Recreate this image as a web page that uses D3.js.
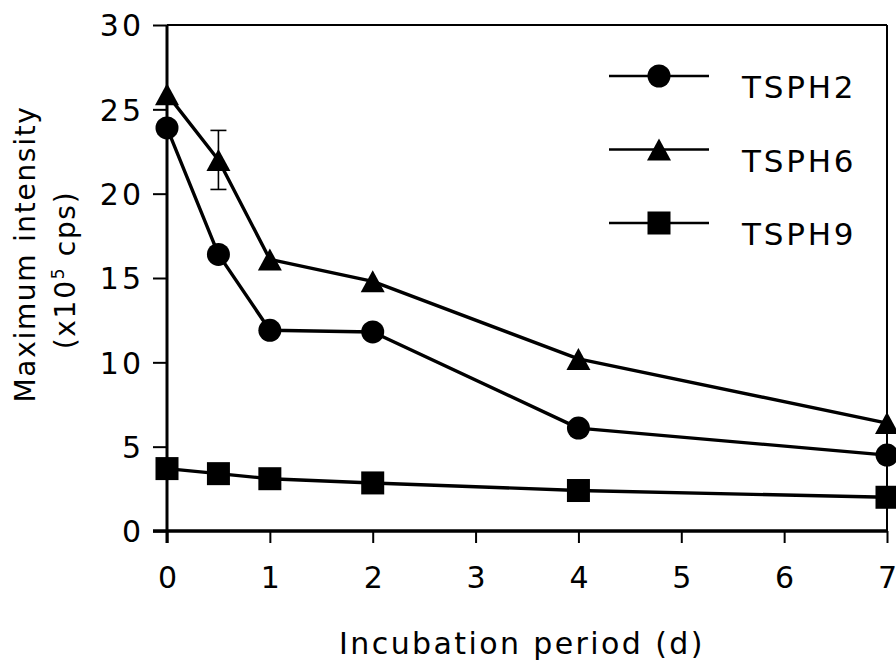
<!DOCTYPE html>
<html>
<head>
<meta charset="utf-8">
<script src="https://cdn.jsdelivr.net/npm/d3@7"></script>
<style>
  html, body { margin: 0; padding: 0; background: #fff; }
  svg { display: block; }
  text { font-family: "DejaVu Sans", Verdana, sans-serif; fill: #000; }
</style>
</head>
<body>
<svg id="chart" width="896" height="662"></svg>
<script>
// Incubation time points (days)
const days = [0, 0.5, 1, 2, 4, 7];
const xTicks = [0, 1, 2, 3, 4, 5, 6, 7];
const yTicks = [0, 5, 10, 15, 20, 25, 30];

// Maximum intensity (x10^5 cps)
const tsph2 = [23.9, 16.4, 11.9, 11.8, 6.1, 4.5];
const tsph6 = [25.9, 22.0, 16.1, 14.8, 10.2, 6.4];
const tsph9 = [3.7, 3.4, 3.1, 2.85, 2.4, 2.0];
const tsph6Err = [null, 1.75, null, null, null, null];

const seriesNames = ["TSPH2", "TSPH6", "TSPH9"];
const seriesShapes = ["circle", "triangle", "square"];

const series = [
  { name: seriesNames[0], shape: seriesShapes[0], values: tsph2, err: null },
  { name: seriesNames[1], shape: seriesShapes[1], values: tsph6, err: tsph6Err },
  { name: seriesNames[2], shape: seriesShapes[2], values: tsph9, err: null }
];

const svg = d3.select("#chart");

const x = d3.scaleLinear().domain([0, 7]).range([167, 887]);
const y = d3.scaleLinear().domain([0, 30]).range([531, 25]);
const fmt = d3.format("d");

// Frame lines on top and right
svg.append("line")
  .attr("x1", x(0)).attr("x2", x(7)).attr("y1", y(30)).attr("y2", y(30))
  .attr("stroke", "#000").attr("stroke-width", 2);
svg.append("line")
  .attr("x1", x(7)).attr("x2", x(7)).attr("y1", y(30)).attr("y2", y(0))
  .attr("stroke", "#000").attr("stroke-width", 2);

// Y axis
const yAxis = svg.append("g")
  .attr("transform", `translate(${x(0)},0)`)
  .call(d3.axisLeft(y).tickValues(yTicks).tickFormat(fmt)
    .tickSize(14).tickPadding(12).tickSizeOuter(0));
yAxis.select(".domain").remove();
yAxis.selectAll(".tick line").attr("stroke", "#000").attr("stroke-width", 2);
yAxis.selectAll(".tick text")
  .attr("font-size", 30)
  .attr("letter-spacing", 3)
  .attr("dx", 3)
  .attr("dy", "0.36em")
  .style("font-family", "'DejaVu Sans', Verdana, sans-serif");
svg.append("line")
  .attr("x1", x(0)).attr("x2", x(0)).attr("y1", y(30)).attr("y2", y(0) + 12)
  .attr("stroke", "#000").attr("stroke-width", 3);

// X axis
const xAxis = svg.append("g")
  .attr("transform", `translate(0,${y(0)})`)
  .call(d3.axisBottom(x).tickValues(xTicks).tickFormat(fmt)
    .tickSize(12).tickPadding(14).tickSizeOuter(0));
xAxis.select(".domain").remove();
xAxis.selectAll(".tick line").attr("stroke", "#000").attr("stroke-width", 2);
xAxis.selectAll(".tick text")
  .attr("font-size", 30)
  .attr("y", 57)
  .attr("dy", 0)
  .style("font-family", "'DejaVu Sans', Verdana, sans-serif");
svg.append("line")
  .attr("x1", x(0) - 14).attr("x2", x(7)).attr("y1", y(0)).attr("y2", y(0))
  .attr("stroke", "#000").attr("stroke-width", 3.5);

// Axis titles
svg.append("text")
  .attr("x", 522).attr("y", 654)
  .attr("text-anchor", "middle")
  .attr("font-size", 30)
  .attr("letter-spacing", 2.4)
  .text("Incubation period (d)");

svg.append("text")
  .attr("transform", "translate(35,254) rotate(-90)")
  .attr("text-anchor", "middle")
  .attr("font-size", 28)
  .attr("letter-spacing", 1.7)
  .text("Maximum intensity");

const yt2 = svg.append("text")
  .attr("transform", "translate(75,270) rotate(-90)")
  .attr("text-anchor", "middle")
  .attr("font-size", 28)
  .attr("letter-spacing", 1.7);
yt2.append("tspan").text("(x10");
yt2.append("tspan").attr("font-size", 17).attr("dy", -11).text("5");
yt2.append("tspan").attr("dy", 11).text(" cps)");

// Marker drawing
function marker(g, shape, cx, cy) {
  if (shape === "circle") {
    g.append("circle").attr("cx", cx).attr("cy", cy).attr("r", 11.5).attr("fill", "#000");
  } else if (shape === "square") {
    g.append("rect").attr("x", cx - 11.5).attr("y", cy - 11.5)
      .attr("width", 23).attr("height", 23).attr("fill", "#000");
  } else {
    const w = 24, h = 22;
    g.append("path")
      .attr("d", `M${cx},${cy - h / 2}L${cx + w / 2},${cy + h / 2}L${cx - w / 2},${cy + h / 2}Z`)
      .attr("fill", "#000");
  }
}

const line = d3.line().x(d => x(d[0])).y(d => y(d[1]));

series.forEach(s => {
  const g = svg.append("g");
  const pts = days.map((d, i) => [d, s.values[i]]);
  // error bars
  if (s.err) {
    pts.forEach((p, i) => {
      const e = s.err[i];
      if (e == null) return;
      const px = x(p[0]);
      g.append("line").attr("x1", px).attr("x2", px)
        .attr("y1", y(p[1] + e)).attr("y2", y(p[1] - e))
        .attr("stroke", "#000").attr("stroke-width", 1.6);
      [p[1] + e, p[1] - e].forEach(v => {
        g.append("line").attr("x1", px - 8).attr("x2", px + 8)
          .attr("y1", y(v)).attr("y2", y(v))
          .attr("stroke", "#000").attr("stroke-width", 1.6);
      });
    });
  }
  g.append("path").datum(pts)
    .attr("d", line)
    .attr("fill", "none").attr("stroke", "#000").attr("stroke-width", 3.4)
    .attr("stroke-linejoin", "round");
  pts.forEach(p => marker(g, s.shape, x(p[0]), y(p[1])));
});

// Legend
const legendRowsY = [76, 149.5, 223];
series.forEach((s, i) => {
  const g = svg.append("g");
  const ly = legendRowsY[i];
  g.append("line").attr("x1", 609).attr("x2", 709).attr("y1", ly).attr("y2", ly)
    .attr("stroke", "#000").attr("stroke-width", 2.5);
  marker(g, s.shape, 659, ly);
  g.append("text").attr("x", 742).attr("y", ly + 22)
    .attr("font-size", 31).attr("letter-spacing", 2.8)
    .text(s.name);
});
</script>
</body>
</html>
